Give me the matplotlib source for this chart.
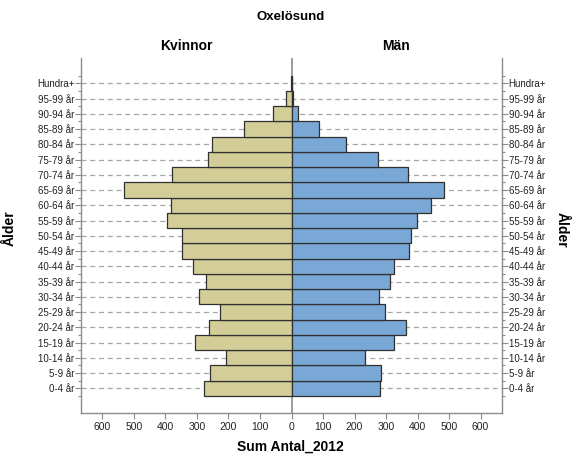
import matplotlib
matplotlib.use("Agg")
import matplotlib.pyplot as plt
from matplotlib.ticker import FixedLocator, FuncFormatter

plt.rcParams["font.family"] = ["Liberation Sans", "DejaVu Sans"]

# age groups, bottom to top
ages = ["0-4 år", "5-9 år", "10-14 år", "15-19 år", "20-24 år", "25-29 år",
        "30-34 år", "35-39 år", "40-44 år", "45-49 år", "50-54 år", "55-59 år",
        "60-64 år", "65-69 år", "70-74 år", "75-79 år", "80-84 år", "85-89 år",
        "90-94 år", "95-99 år", "Hundra+"]
kvinnor = [279, 260, 209, 306, 261, 226, 292, 271, 313, 347, 348, 394,
           382, 531, 378, 266, 253, 152, 59, 16, 2]
man = [282, 284, 232, 324, 364, 297, 278, 312, 326, 374, 380, 399,
       442, 485, 370, 276, 172, 87, 21, 5, 1]
xticks = list(range(-600, 700, 100))

FEMALE = "#d3ce97"
MALE = "#79a8d6"
GREY = "#8c8c8c"

fig = plt.figure(figsize=(5.76, 4.57), dpi=100)
ax = fig.add_axes([81 / 576, 1 - 412.7 / 457, 421 / 576, 354.7 / 457])

ypos = list(range(len(ages)))
for y in ypos:
    ax.axhline(y, color="#a6a6a6", lw=0.9, ls=(0, (4, 3)), zorder=1)
ax.axvline(0, color=GREY, lw=1.2, zorder=1)

ax.barh(ypos, [-v for v in kvinnor], height=1.0, color=FEMALE,
        edgecolor="#303030", lw=0.9, zorder=3)
ax.barh(ypos, man, height=1.0, color=MALE,
        edgecolor="#303030", lw=0.9, zorder=3)

ax.set_xlim(-668, 668)
ax.set_ylim(-1.6, 21.66)

ax.set_xticks(xticks)
ax.xaxis.set_major_formatter(FuncFormatter(lambda v, p: f"{abs(int(v))}"))
ax.set_yticks(ypos)
ax.set_yticklabels(ages)
ax.yaxis.set_minor_locator(FixedLocator([y - 0.5 for y in range(len(ages) + 1)]))
ax.yaxis.set_ticks_position("both")
ax.tick_params(axis="y", which="both", left=True, right=True,
               labelleft=True, labelright=True)
ax.tick_params(axis="y", which="major", length=4.3, width=0.8, color=GREY,
               pad=0.5, labelsize=7, labelcolor="#222222")
ax.tick_params(axis="y", which="minor", length=2.2, width=0.8, color=GREY)
ax.tick_params(axis="x", length=4, width=0.8, color=GREY, pad=3,
               labelsize=7.5, labelcolor="#222222")

for side in ["left", "right", "bottom"]:
    ax.spines[side].set_color(GREY)
    ax.spines[side].set_linewidth(1.0)
ax.spines["top"].set_visible(False)

fig.text(290.7 / 576, 1 - 17 / 457, "Oxelösund", ha="center", va="center",
         fontsize=9.5, fontweight="bold")
fig.text(186 / 576, 1 - 46 / 457, "Kvinnor", ha="center", va="center",
         fontsize=10, fontweight="bold")
fig.text(396 / 576, 1 - 46 / 457, "Män", ha="center", va="center",
         fontsize=10, fontweight="bold")
fig.text(290.7 / 576, 1 - 447 / 457, "Sum Antal_2012", ha="center", va="center",
         fontsize=10, fontweight="bold")
fig.text(10 / 576, 1 - 228 / 457, "Ålder", ha="center", va="center",
         rotation=90, fontsize=10, fontweight="bold")
fig.text(562 / 576, 1 - 230 / 457, "Ålder", ha="center", va="center",
         rotation=270, fontsize=10, fontweight="bold")

fig.savefig("out.png", dpi=100)
